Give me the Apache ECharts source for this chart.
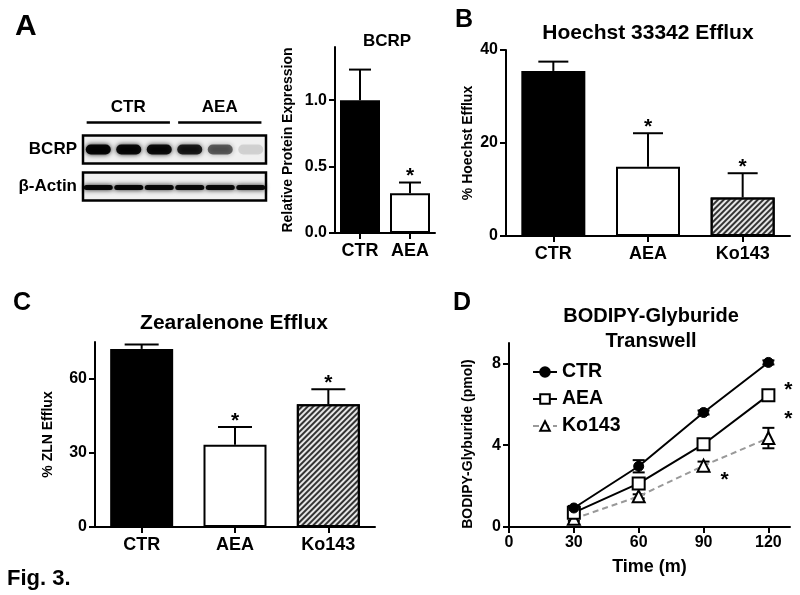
<!DOCTYPE html>
<html><head><meta charset="utf-8">
<script src="https://cdn.jsdelivr.net/npm/echarts@6/dist/echarts.min.js"></script>
<style>html,body{margin:0;padding:0;background:#fff}#c{width:800px;height:595px}</style>
</head><body><div id="c"></div>
<script>
// ---------- data ----------
const bcrpCats = ['CTR', 'AEA'];
const bcrpMean = [1.0, 0.30];
const bcrpErr = [0.23, 0.08];
const bcrpSig = [0, 1];
const bcrpTicks = [0, 0.5, 1.0];

const effluxCats = ['CTR', 'AEA', 'Ko143'];
const hoechstMean = [35.5, 14.9, 8.3];
const hoechstErr = [2.0, 7.2, 5.2];
const hoechstSig = [0, 1, 1];
const hoechstTicks = [0, 20, 40];

const zlnMean = [72.2, 33.3, 49.8];
const zlnErr = [1.8, 7.2, 6.0];
const zlnSig = [0, 1, 1];
const zlnTicks = [0, 30, 60];

const timeMin = [30, 60, 90, 120];
const timeTicks = [0, 30, 60, 90, 120];
const pmolTicks = [0, 4, 8];
const ctrPmol = [0.93, 2.97, 5.6, 8.05];
const ctrPmolErr = [0.1, 0.3, 0.1, 0.1];
const ctrPmolSig = [0, 0, 0, 0];
const aeaPmol = [0.7, 2.13, 4.05, 6.45];
const aeaPmolErr = [0.1, 0.15, 0.15, 0.15];
const aeaPmolSig = [0, 0, 0, 1];
const koPmol = [0.4, 1.5, 3.0, 4.35];
const koPmolErr = [0.1, 0.1, 0.2, 0.5];
const koPmolSig = [0, 0, 1, 1];

const blotLanes = ['CTR', 'CTR', 'CTR', 'AEA', 'AEA', 'AEA'];
const blotRows = ['BCRP', 'β-Actin'];
const bcrpBand = [0.95, 0.92, 0.9, 0.82, 0.55, 0.12];
const actinBand = [0.95, 0.95, 0.93, 0.93, 0.93, 0.93];

// ---------- style ----------
const FONT = '"Liberation Sans", Arial, Helvetica, sans-serif';
const hatch = { symbol: 'rect', symbolSize: 1, color: '#333', dashArrayX: [1, 0], dashArrayY: [1.5, 1.7], rotation: -Math.PI / 4 };
const fillStyle = {
  CTR: { color: '#000', borderColor: '#000', borderWidth: 2 },
  AEA: { color: '#fff', borderColor: '#000', borderWidth: 2 },
  Ko143: { color: '#e6e6e6', borderColor: '#000', borderWidth: 2, decal: hatch }
};
function barData(cats, vals) { return vals.map((v, i) => ({ value: v, itemStyle: fillStyle[cats[i]] })); }

function axisStyle(extra) {
  const base = {
    axisLine: { show: true, onZero: false, lineStyle: { color: '#000', width: 2 } },
    axisTick: { show: true, length: 6, lineStyle: { color: '#000', width: 2 } },
    axisLabel: { color: '#000', fontFamily: FONT, fontWeight: 'bold', fontSize: 16, margin: 8 },
    splitLine: { show: false },
    nameTextStyle: { color: '#000', fontFamily: FONT, fontWeight: 'bold', fontSize: 14 }
  };
  for (const k in extra) {
    if (base[k] && typeof base[k] === 'object' && !Array.isArray(extra[k])) base[k] = Object.assign({}, base[k], extra[k]);
    else base[k] = extra[k];
  }
  return base;
}
function catAxis(gi, cats) {
  return axisStyle({ type: 'category', gridIndex: gi, data: cats,
    axisTick: { show: true, length: 6, alignWithLabel: true, lineStyle: { color: '#000', width: 2 } },
    axisLabel: { color: '#000', fontFamily: FONT, fontWeight: 'bold', fontSize: 18, margin: 9 } });
}
function valAxis(gi, max, ticks, name, gap, fmt, extra) {
  return axisStyle(Object.assign({ type: 'value', gridIndex: gi, min: 0, max: max,
    axisTick: { show: true, length: 6, customValues: ticks, lineStyle: { color: '#000', width: 2 } },
    axisLabel: { color: '#000', fontFamily: FONT, fontWeight: 'bold', fontSize: 16, margin: 8, customValues: ticks, formatter: fmt || (v => String(v)) },
    name: name, nameLocation: 'middle', nameGap: gap }, extra || {}));
}

function barErr(capW) {
  return function (params, api) {
    const x = api.value(0), v = api.value(1), e = api.value(2), sig = api.value(3);
    const p0 = api.coord([x, v]);
    const p1 = api.coord([x, v + e]);
    const ch = [
      { type: 'line', shape: { x1: p0[0], y1: p0[1], x2: p1[0], y2: p1[1] }, style: { stroke: '#000', lineWidth: 2 } },
      { type: 'line', shape: { x1: p1[0] - capW / 2, y1: p1[1], x2: p1[0] + capW / 2, y2: p1[1] }, style: { stroke: '#000', lineWidth: 2 } }
    ];
    if (sig) ch.push({ type: 'text', style: { text: '*', x: p1[0], y: p1[1] - 6, align: 'center', verticalAlign: 'middle', fontSize: 21, fontWeight: 'bold', fontFamily: FONT, fill: '#000' } });
    return { type: 'group', children: ch };
  };
}
function lineErr(params, api) {
  const x = api.value(0), v = api.value(1), e = api.value(2);
  const a = api.coord([x, v - e]), b = api.coord([x, v + e]);
  const w = 12;
  return { type: 'group', children: [
    { type: 'line', shape: { x1: a[0], y1: a[1], x2: b[0], y2: b[1] }, style: { stroke: '#000', lineWidth: 2 } },
    { type: 'line', shape: { x1: a[0] - w / 2, y1: a[1], x2: a[0] + w / 2, y2: a[1] }, style: { stroke: '#000', lineWidth: 2 } },
    { type: 'line', shape: { x1: b[0] - w / 2, y1: b[1], x2: b[0] + w / 2, y2: b[1] }, style: { stroke: '#000', lineWidth: 2 } }
  ] };
}
const starOffsets = { AEA: [[0, 0], [0, 0], [0, 0], [20, -5]], Ko143: [[0, 0], [0, 0], [21, 15], [20, -19]] };
function lineData(ys, sig, key) {
  return ys.map((y, i) => ({ value: [timeMin[i], y],
    label: sig[i] ? { show: true, position: 'inside', formatter: '*', offset: starOffsets[key][i], fontSize: 21, fontWeight: 'bold', fontFamily: FONT, color: '#000' } : { show: false } }));
}

// blot groups derived from lane names
const blotGroups = [];
blotLanes.forEach((n, i) => {
  const g = blotGroups[blotGroups.length - 1];
  if (g && g.name === n) g.end = i + 1; else blotGroups.push({ name: n, start: i, end: i + 1 });
});
const bandData = [];
bcrpBand.forEach((a, i) => bandData.push([i, 0, a]));
actinBand.forEach((a, i) => bandData.push([i, 1, a]));

function titleT(text, left, top, size, align, lh) {
  return { text, left, top, padding: 0, textAlign: align || 'left',
    textStyle: { fontFamily: FONT, fontWeight: 'bold', fontSize: size, color: '#000', lineHeight: lh || size * 1.2 } };
}

const option = {
  backgroundColor: '#fff',
  animation: false,
  title: [
    titleT('A', 15, 9, 30),
    titleT('B', 455, 5, 25),
    titleT('C', 13, 288, 25),
    titleT('D', 453, 288, 25),
    titleT('BCRP', 387, 31, 17, 'center'),
    titleT('Hoechst 33342 Efflux', 648, 21, 21, 'center'),
    titleT('Zearalenone Efflux', 234, 311, 21, 'center'),
    titleT('BODIPY-Glyburide\nTranswell', 651, 304, 20, 'center', 25),
    titleT('Fig. 3.', 7, 566, 22)
  ],
  legend: {
    data: ['CTR', 'AEA', 'Ko143'], orient: 'vertical', left: 532, top: 362, padding: 0,
    itemWidth: 24, itemHeight: 12, itemGap: 7, selectedMode: false,
    textStyle: { fontFamily: FONT, fontWeight: 'bold', fontSize: 19.5, color: '#000', lineHeight: 20 }
  },
  grid: [
    { left: 335, top: 47, width: 100, height: 186, outerBoundsMode: 'none' },
    { left: 506, top: 50, width: 284, height: 186, outerBoundsMode: 'none' },
    { left: 95, top: 342, width: 280, height: 185, outerBoundsMode: 'none' },
    { left: 509, top: 343, width: 281, height: 184, outerBoundsMode: 'none' },
    { left: 83, top: 131, width: 183, height: 74, outerBoundsMode: 'none' }
  ],
  xAxis: [
    catAxis(0, bcrpCats),
    catAxis(1, effluxCats),
    catAxis(2, effluxCats),
    valAxis(3, 130, timeTicks, 'Time (m)', 31, null, { nameTextStyle: { color: '#000', fontFamily: FONT, fontWeight: 'bold', fontSize: 18 } }),
    { type: 'value', gridIndex: 4, min: 0, max: 6, show: false }
  ],
  yAxis: [
    valAxis(0, 1.4, bcrpTicks, 'Relative Protein Expression', 40, v => v.toFixed(1)),
    valAxis(1, 40, hoechstTicks, '% Hoechst Efflux', 31),
    valAxis(2, 75, zlnTicks, '% ZLN Efflux', 40),
    valAxis(3, 9, pmolTicks, 'BODIPY-Glyburide (pmol)', 34, null, { nameTextStyle: { color: '#000', fontFamily: FONT, fontWeight: 'bold', fontSize: 14, padding: [0, 18, 0, 0] } }),
    { type: 'category', gridIndex: 4, data: blotRows, inverse: true,
      axisLine: { show: false }, axisTick: { show: false }, splitLine: { show: false },
      axisLabel: { color: '#000', fontFamily: FONT, fontWeight: 'bold', fontSize: 17, margin: 6 } }
  ],
  series: [
    { type: 'bar', name: 'bcrpBar', xAxisIndex: 0, yAxisIndex: 0, barWidth: 40, data: barData(bcrpCats, bcrpMean), z: 2 },
    { type: 'custom', name: 'bcrpErr', xAxisIndex: 0, yAxisIndex: 0, renderItem: barErr(22), z: 3,
      data: bcrpMean.map((v, i) => [i, v, bcrpErr[i], bcrpSig[i]]) },
    { type: 'bar', name: 'hoechstBar', xAxisIndex: 1, yAxisIndex: 1, barWidth: 64, data: barData(effluxCats, hoechstMean), z: 2 },
    { type: 'custom', name: 'hoechstErr', xAxisIndex: 1, yAxisIndex: 1, renderItem: barErr(30), z: 3,
      data: hoechstMean.map((v, i) => [i, v, hoechstErr[i], hoechstSig[i]]) },
    { type: 'bar', name: 'zlnBar', xAxisIndex: 2, yAxisIndex: 2, barWidth: 63, data: barData(effluxCats, zlnMean), z: 2 },
    { type: 'custom', name: 'zlnErr', xAxisIndex: 2, yAxisIndex: 2, renderItem: barErr(34), z: 3,
      data: zlnMean.map((v, i) => [i, v, zlnErr[i], zlnSig[i]]) },
    { type: 'custom', name: 'pmolErr', xAxisIndex: 3, yAxisIndex: 3, renderItem: lineErr, z: 2,
      data: [].concat(ctrPmol.map((v, i) => [timeMin[i], v, ctrPmolErr[i]]),
                      aeaPmol.map((v, i) => [timeMin[i], v, aeaPmolErr[i]]),
                      koPmol.map((v, i) => [timeMin[i], v, koPmolErr[i]])) },
    { type: 'line', name: 'Ko143', xAxisIndex: 3, yAxisIndex: 3, z: 3, symbol: 'triangle', symbolSize: 12, showSymbol: true,
      lineStyle: { color: '#999', width: 2, type: [6, 4] }, itemStyle: { color: '#fff', borderColor: '#000', borderWidth: 2 },
      data: lineData(koPmol, koPmolSig, 'Ko143') },
    { type: 'line', name: 'AEA', xAxisIndex: 3, yAxisIndex: 3, z: 4, symbol: 'rect', symbolSize: 12, showSymbol: true,
      lineStyle: { color: '#000', width: 2 }, itemStyle: { color: '#fff', borderColor: '#000', borderWidth: 2 },
      data: lineData(aeaPmol, aeaPmolSig, 'AEA') },
    { type: 'line', name: 'CTR', xAxisIndex: 3, yAxisIndex: 3, z: 5, symbol: 'circle', symbolSize: 10, showSymbol: true,
      lineStyle: { color: '#000', width: 2 }, itemStyle: { color: '#000', borderColor: '#000', borderWidth: 1 },
      data: lineData(ctrPmol, ctrPmolSig, 'CTR') },
    // western blot frames
    { type: 'custom', name: 'blotFrame', xAxisIndex: 4, yAxisIndex: 4, z: 1,
      data: blotRows.map((r, i) => [0, i]),
      renderItem: function (params, api) {
        const c = api.coord([0, api.value(1)]);
        const w = api.size([6, 0])[0];
        const h = 28;
        return { type: 'rect', shape: { x: c[0], y: c[1] - h / 2, width: w, height: h }, style: { fill: '#f0f0f0', stroke: '#000', lineWidth: 2.5 } };
      } },
    { type: 'custom', name: 'blotBands', xAxisIndex: 4, yAxisIndex: 4, z: 2,
      data: bandData,
      renderItem: function (params, api) {
        const row = api.value(1), a = api.value(2);
        const c = api.coord([api.value(0) + 0.5, row]);
        const w = row === 0 ? 25 : 29, h = row === 0 ? 10 : 5;
        const col = 'rgba(0,0,0,' + a + ')';
        return { type: 'rect', shape: { x: c[0] - w / 2, y: c[1] - h / 2 + (row === 0 ? 0 : 1), width: w, height: h, r: h / 2 },
          style: { fill: col, shadowBlur: 5, shadowColor: col } };
      } },
    { type: 'custom', name: 'blotGroups', xAxisIndex: 4, yAxisIndex: 4, z: 2,
      data: blotGroups.map(g => [g.start, 0, g.end]),
      renderItem: function (params, api) {
        const g = blotGroups[params.dataIndex];
        const a = api.coord([api.value(0) + 0.12, 0]), b = api.coord([api.value(2) - 0.15, 0]);
        const yl = a[1] - 14 - 13;
        return { type: 'group', children: [
          { type: 'line', shape: { x1: a[0], y1: yl, x2: b[0], y2: yl }, style: { stroke: '#000', lineWidth: 2.5 } },
          { type: 'text', style: { text: g.name, x: (a[0] + b[0]) / 2, y: yl - 15, align: 'center', verticalAlign: 'middle', fontSize: 17, fontWeight: 'bold', fontFamily: FONT, fill: '#000' } }
        ] };
      } }
  ]
};
const chart = echarts.init(document.getElementById('c'), null, { renderer: 'canvas' });
chart.setOption(option);
</script></body></html>
